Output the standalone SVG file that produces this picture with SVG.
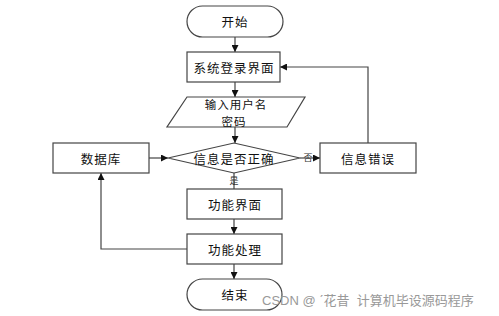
<svg xmlns="http://www.w3.org/2000/svg" width="499" height="316" viewBox="0 0 499 316">
<style>
.s{fill:#fff;stroke:#444;stroke-width:1.2}
.t{font-family:"Noto Sans CJK SC","Noto Sans",sans-serif;font-size:12.5px;letter-spacing:1px;fill:#111;text-anchor:middle;dominant-baseline:central}
.t2{font-size:11.5px}
.c{fill:none;stroke:#444;stroke-width:1.2}
.sm{font-family:"Noto Sans CJK SC",sans-serif;font-size:9px;fill:#333;text-anchor:middle;dominant-baseline:central}
.wm{font-family:"Liberation Sans","Noto Sans CJK SC",sans-serif;font-size:13px;fill:#999}
</style>
<defs>
<marker id="a" viewBox="0 0 10 10" refX="10" refY="5" markerWidth="7" markerHeight="7" markerUnits="userSpaceOnUse" orient="auto">
<path d="M0,0 L10,5 L0,10 z" fill="#111"/>
</marker>
</defs>
<rect width="499" height="316" fill="#fff"/>
<g id="connectors">
<line class="c" x1="235" y1="37" x2="235" y2="52" marker-end="url(#a)"/>
<line class="c" x1="235" y1="82" x2="235" y2="97" marker-end="url(#a)"/>
<line class="c" x1="235" y1="127" x2="235" y2="143" marker-end="url(#a)"/>
<line class="c" x1="300" y1="158" x2="320" y2="158" marker-end="url(#a)"/>
<polyline class="c" points="368,143 368,67 280,67" marker-end="url(#a)"/>
<line class="c" x1="149" y1="158" x2="168" y2="158" marker-end="url(#a)"/>
<line class="c" x1="234" y1="173" x2="234" y2="189"/>
<line class="c" x1="234" y1="219" x2="234" y2="234" marker-end="url(#a)"/>
<polyline class="c" points="187,249 101,249 101,173" marker-end="url(#a)"/>
<line class="c" x1="234" y1="264" x2="234" y2="279" marker-end="url(#a)"/>
<text class="sm" x="308" y="157">否</text>
<text class="sm" x="234" y="180">是</text>
</g>
<g id="start">
<rect class="s" x="187" y="6" width="96" height="31" rx="15.5"/>
<text class="t" x="235" y="21.5">开始</text>
</g>
<g id="login">
<rect class="s" x="187" y="52" width="93" height="30"/>
<text class="t" x="234" y="67">系统登录界面</text>
</g>
<g id="input">
<polygon class="s" points="187,97 305,97 287,127 167,127"/>
<text class="t t2" x="236" y="103.5">输入用户名</text>
<text class="t t2" x="234" y="120.5">密码</text>
</g>
<g id="check">
<polygon class="s" points="168,158 234,143 300,158 234,173"/>
<text class="t" x="234" y="158">信息是否正确</text>
</g>
<g id="error">
<rect class="s" x="320" y="143" width="96" height="30"/>
<text class="t" x="368" y="158">信息错误</text>
</g>
<g id="db">
<rect class="s" x="53" y="143" width="96" height="30"/>
<text class="t" x="101" y="158">数据库</text>
</g>
<g id="func">
<rect class="s" x="187" y="189" width="95" height="30"/>
<text class="t" x="235" y="204">功能界面</text>
</g>
<g id="proc">
<rect class="s" x="187" y="234" width="95" height="30"/>
<text class="t" x="235" y="249">功能处理</text>
</g>
<g id="end">
<rect class="s" x="187" y="279" width="95" height="31" rx="15.5"/>
<text class="t" x="235" y="294.5">结束</text>
</g>
<text class="wm" x="262" y="305" xml:space="preserve">CSDN @ ˊ花昔&#160;&#160;计算机毕设源码程序</text>
</svg>
